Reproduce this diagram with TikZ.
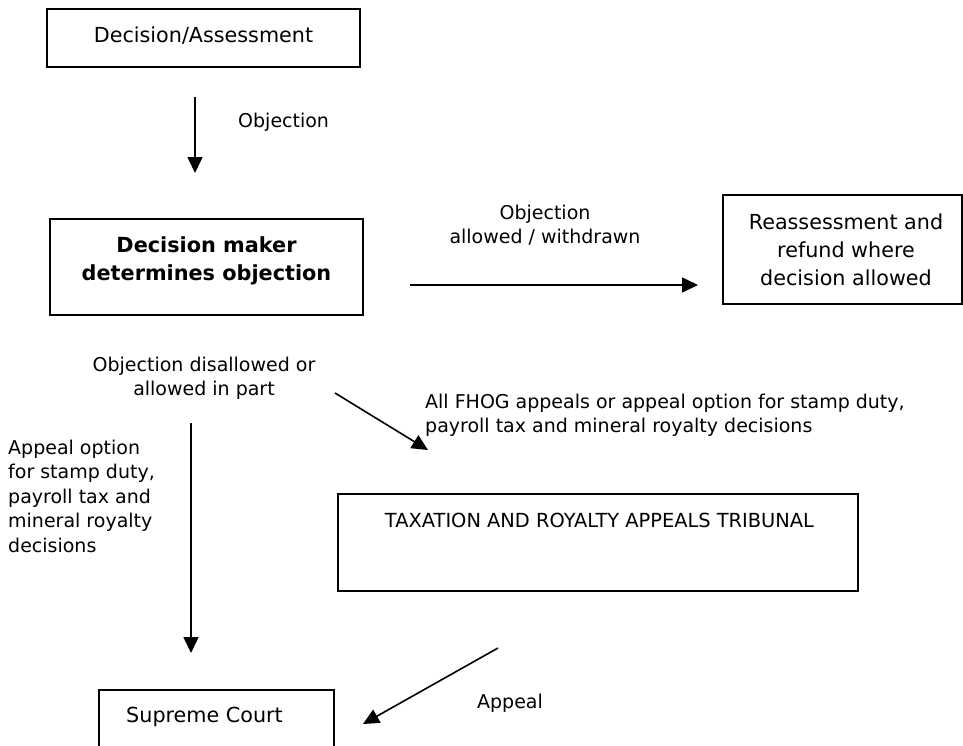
\documentclass[tikz,border=0pt]{standalone}
\usepackage{fontspec}
\setmainfont{DejaVu Sans}
\usetikzlibrary{arrows.meta}
\begin{document}
\begin{tikzpicture}[x=1pt,y=-1pt,
  box/.style={draw, line width=1.8pt, inner sep=0pt, align=center},
  lbl/.style={inner sep=0pt, font=\fontsize{19}{24.5}\selectfont},
  boxtxt/.style={inner sep=0pt, align=center, font=\fontsize{20.7}{28}\selectfont},
  arr/.style={line width=1.6pt, -{Triangle[length=16pt,width=15pt]}}]
\clip (0,0) rectangle (963,745);
\fill[white] (0,0) rectangle (963,745);
% boxes
\node[box, minimum width=313pt, minimum height=58pt] (b1) at (203.5,38) {};
\node[boxtxt] (t1) at (203.5,36) {Decision/Assessment};
\node[box, minimum width=313pt, minimum height=96pt] (b2) at (206.5,267) {};
\node[boxtxt, font=\bfseries\fontsize{20.8}{28}\selectfont] (t2) at (206.5,261) {Decision maker\\determines objection};
\node[box, minimum width=239pt, minimum height=109pt] (b3) at (842.5,249.5) {};
\node[boxtxt] (t3) at (846,250) {Reassessment and\\refund where\\decision allowed};
\node[box, minimum width=520pt, minimum height=97pt] (b4) at (598,542.5) {};
\node[boxtxt, font=\fontsize{19.4}{24}\selectfont] (t4) at (599.5,520) {TAXATION AND ROYALTY APPEALS TRIBUNAL};
\node[box, minimum width=235pt, minimum height=80pt] (b5) at (216.5,730) {};
\node[boxtxt] (t5) at (204.5,717) {Supreme Court};
% labels
\node[lbl, anchor=west] (l1) at (238,122) {Objection};
\node[lbl, align=center] (l2) at (545,225) {Objection\\allowed / withdrawn};
\node[lbl, align=center] (l3) at (204,378) {Objection disallowed or\\allowed in part};
\node[lbl, align=left, anchor=west] (l4) at (425,415) {All FHOG appeals or appeal option for stamp duty,\\payroll tax and mineral royalty decisions};
\node[lbl, align=left, anchor=west] (l5) at (8,496) {Appeal option\\for stamp duty,\\payroll tax and\\mineral royalty\\decisions};
\node[lbl] (l6) at (510,703) {Appeal};
% connector end points
\coordinate (a1s) at (195,97);
\coordinate (a1e) at (195,173);
\coordinate (a2s) at (410,285);
\coordinate (a2e) at (698,285);
\coordinate (a3s) at (335,393);
\coordinate (a3e) at (428,450);
\coordinate (a4s) at (191,423);
\coordinate (a4e) at (191,653);
\coordinate (a5s) at (498,648);
\coordinate (a5e) at (363,724);
\draw[arr] (a1s) -- (a1e);
\draw[arr] (a2s) -- (a2e);
\draw[arr] (a3s) -- (a3e);
\draw[arr] (a4s) -- (a4e);
\draw[arr] (a5s) -- (a5e);
\end{tikzpicture}
\end{document}
